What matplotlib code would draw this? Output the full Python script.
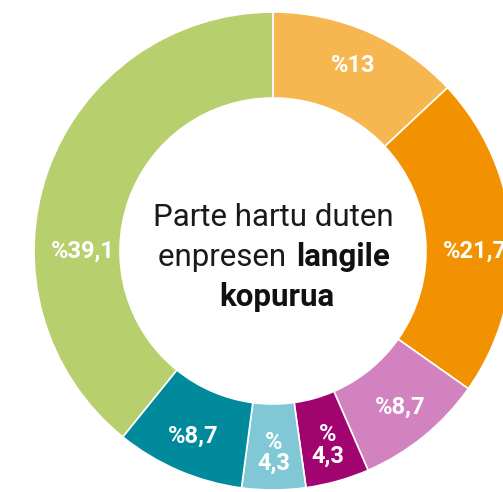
import matplotlib.pyplot as plt

shares = [13, 21.7, 8.7, 4.3, 4.3, 8.7, 39.1]
labels = ["%13", "%21,7", "%8,7", "%\n4,3", "%\n4,3", "%8,7", "%39,1"]
colors = ["#F6B751", "#F39200", "#D282BE", "#A1046F", "#80C8D5", "#008A9C", "#B7CF6C"]

plt.rcParams['font.family'] = ['Roboto', 'DejaVu Sans']

fig = plt.figure(figsize=(5.03, 4.92), dpi=100)
ax = fig.add_axes([0, 0, 1, 1])

cx, cy, r = 273, 492 - 251, 239
wedges, texts = ax.pie(shares, colors=colors, startangle=90, counterclock=False,
                       center=(cx, cy), radius=r, labels=labels, labeldistance=0.845,
                       wedgeprops=dict(width=r - 153, edgecolor="white", linewidth=1.2),
                       textprops=dict(color="white", fontsize=17, fontweight="bold",
                                      ha="center", va="center", linespacing=0.9))
for t in texts:
    t.set_horizontalalignment("center")
# the two big side labels sit level with the centre
for i in (1, 6):
    x, _ = texts[i].get_position()
    texts[i].set_position((x, cy))

ax.set_xlim(0, 503)
ax.set_ylim(0, 492)
ax.set_aspect("equal")
ax.axis("off")

ax.text(cx, cy + 34, "Parte hartu duten", ha="center", va="center", fontsize=22.5, color="#1a1a1a")
ax.text(294, cy - 6, "enpresen ", ha="right", va="center", fontsize=22.5, color="#1a1a1a")
ax.text(296, cy - 6, "langile", ha="left", va="center", fontsize=22.5, fontweight="bold", color="#111111")
ax.text(cx + 4, cy - 46, "kopurua", ha="center", va="center", fontsize=22.5, fontweight="bold", color="#111111")

fig.savefig("out.png", dpi=100)
